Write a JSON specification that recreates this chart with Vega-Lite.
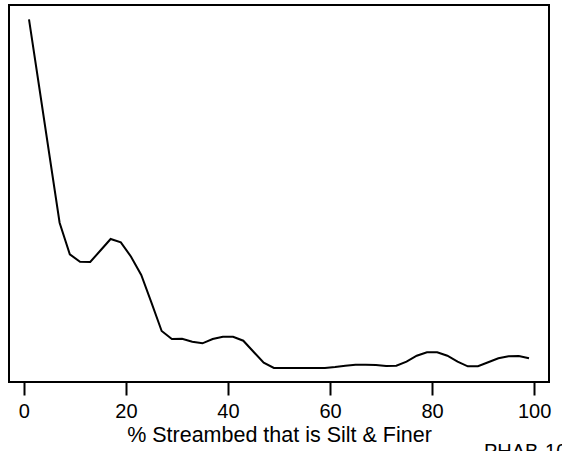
{
  "$schema": "https://vega.github.io/schema/vega-lite/v6.json",
  "autosize": {"type": "none"},
  "padding": {"left": 9, "top": 5, "right": 13, "bottom": 69},
  "width": 540,
  "height": 377,
  "background": "white",
  "title": {
    "text": "PHAB-10",
    "orient": "bottom",
    "anchor": "start",
    "dx": 475,
    "offset": -4,
    "font": "Liberation Sans",
    "fontSize": 20,
    "fontWeight": "normal",
    "color": "black"
  },
  "config": {
    "view": {"stroke": "black", "strokeWidth": 2},
    "axis": {"grid": false}
  },
  "data": {
    "values": [
      {"pct": 1, "v": 362.7},
      {"pct": 3, "v": 295},
      {"pct": 5, "v": 227},
      {"pct": 7, "v": 159.3},
      {"pct": 9, "v": 127.7},
      {"pct": 11, "v": 120.3},
      {"pct": 13, "v": 120},
      {"pct": 15, "v": 131.5},
      {"pct": 17, "v": 143},
      {"pct": 19, "v": 139.7},
      {"pct": 21, "v": 125.3},
      {"pct": 23, "v": 107},
      {"pct": 25, "v": 79.3},
      {"pct": 27, "v": 51},
      {"pct": 29, "v": 43},
      {"pct": 31, "v": 43.3},
      {"pct": 33, "v": 40.3},
      {"pct": 35, "v": 38.7},
      {"pct": 37, "v": 43},
      {"pct": 39, "v": 45.3},
      {"pct": 41, "v": 45.3},
      {"pct": 43, "v": 41.3},
      {"pct": 45, "v": 30.3},
      {"pct": 47, "v": 19.3},
      {"pct": 49, "v": 14},
      {"pct": 51, "v": 14},
      {"pct": 53, "v": 14},
      {"pct": 55, "v": 14},
      {"pct": 57, "v": 14},
      {"pct": 59, "v": 14},
      {"pct": 61, "v": 15},
      {"pct": 63, "v": 16.3},
      {"pct": 65, "v": 17.3},
      {"pct": 67, "v": 17.3},
      {"pct": 69, "v": 17},
      {"pct": 71, "v": 16},
      {"pct": 73, "v": 16.3},
      {"pct": 75, "v": 20.3},
      {"pct": 77, "v": 26.3},
      {"pct": 79, "v": 29.7},
      {"pct": 81, "v": 29.7},
      {"pct": 83, "v": 26.3},
      {"pct": 85, "v": 20.3},
      {"pct": 87, "v": 15.7},
      {"pct": 89, "v": 15.7},
      {"pct": 91, "v": 19.7},
      {"pct": 93, "v": 23.7},
      {"pct": 95, "v": 25.7},
      {"pct": 97, "v": 26},
      {"pct": 99, "v": 23.7}
    ]
  },
  "mark": {"type": "line", "color": "black", "strokeWidth": 2, "clip": true},
  "encoding": {
    "x": {
      "field": "pct",
      "type": "quantitative",
      "scale": {"domain": [-2.92, 102.92], "nice": false, "zero": false},
      "axis": {
        "title": "% Streambed that is Silt & Finer",
        "values": [0, 20, 40, 60, 80, 100],
        "domain": false,
        "ticks": true,
        "tickColor": "black",
        "tickWidth": 2,
        "tickSize": 13,
        "labelFont": "Liberation Sans",
        "labelFontSize": 20,
        "labelColor": "black",
        "labelPadding": 6,
        "labelFlush": false,
        "titleFont": "Liberation Sans",
        "titleFontSize": 21.5,
        "titleFontWeight": "normal",
        "titleColor": "black",
        "titlePadding": 3
      }
    },
    "y": {
      "field": "v",
      "type": "quantitative",
      "scale": {"domain": [0, 377], "nice": false, "zero": false},
      "axis": null
    }
  }
}
